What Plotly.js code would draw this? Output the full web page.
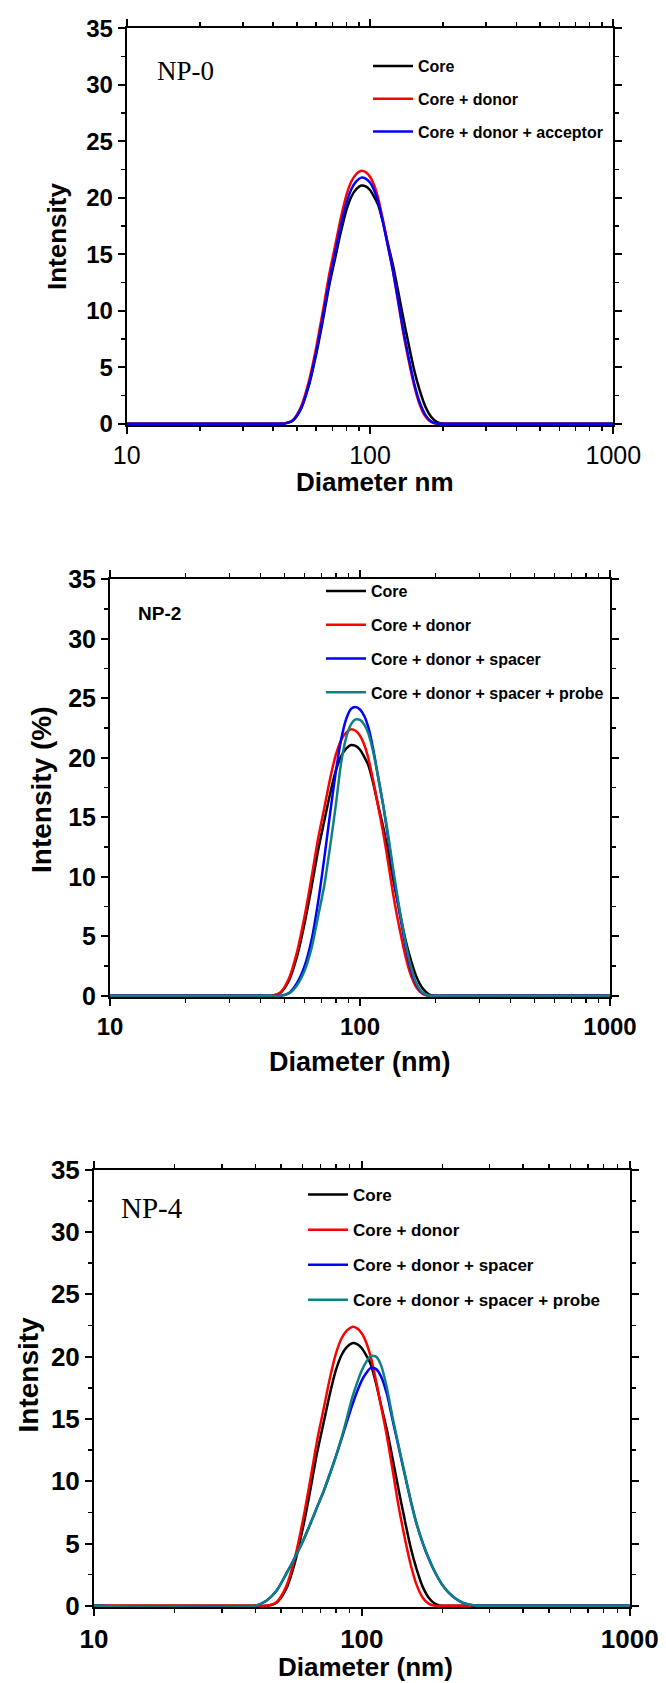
<!DOCTYPE html>
<html><head><meta charset="utf-8">
<script src="https://cdn.plot.ly/plotly-3.0.1.min.js"></script>
<style>html,body{margin:0;padding:0;background:#fff}#chart{width:666px;height:1683px}</style>
</head><body><div id="chart"></div>
<script>
// Diameter grid (nm)
const diameters = [10, 40, 44, 48, 52, 56, 60, 64, 68, 72, 76, 80, 84, 88, 92, 96, 100, 104, 108, 113, 118, 124, 130, 137, 144, 152, 160, 169, 178, 188, 198, 210, 225, 240, 260, 280, 300, 1000];
// Intensity (%) series
const core        = [0, 0, 0, 0.25, 1.29, 3.33, 6.08, 9.14, 12.24, 14.71, 17.03, 18.91, 20.13, 20.78, 21.08, 21.0, 20.68, 20.08, 19.37, 17.85, 16.07, 14.13, 11.92, 9.37, 7.08, 4.72, 2.97, 1.50, 0.63, 0.16, 0.01, 0, 0, 0, 0, 0, 0, 0];
const coreDonor   = [0, 0, 0, 0.29, 1.48, 3.70, 6.66, 9.95, 13.22, 15.81, 18.28, 20.24, 21.48, 22.11, 22.39, 22.27, 21.86, 21.10, 19.96, 18.05, 16.01, 13.64, 11.02, 8.04, 5.65, 3.34, 1.70, 0.63, 0.16, 0, 0, 0, 0, 0, 0, 0, 0, 0];
const np0Acceptor = [0, 0, 0, 0.26, 1.33, 3.44, 6.28, 9.44, 12.64, 15.19, 17.59, 19.53, 20.80, 21.47, 21.78, 21.69, 21.34, 20.66, 19.66, 17.86, 15.89, 13.63, 11.14, 8.28, 5.91, 3.55, 1.89, 0.76, 0.22, 0.02, 0, 0, 0, 0, 0, 0, 0, 0];
const np2Spacer   = [0, 0, 0, 0, 0.25, 1.1, 2.5, 4.7, 7.9, 11.6, 15.4, 18.8, 21.51, 23.24, 24.11, 24.28, 24.06, 23.52, 22.56, 20.71, 18.47, 15.92, 13.10, 9.77, 6.98, 4.22, 2.19, 0.85, 0.24, 0.01, 0, 0, 0, 0, 0, 0, 0, 0];
const np2Probe    = [0, 0, 0, 0, 0.2, 0.9, 2.1, 4.0, 6.7, 9.3, 12.6, 16.0, 19.55, 21.68, 22.81, 23.23, 23.18, 22.79, 22.04, 20.48, 18.45, 15.98, 13.33, 10.09, 7.27, 4.50, 2.40, 0.96, 0.28, 0.03, 0, 0, 0, 0, 0, 0, 0, 0];
const np4Spacer   = [0, 0, 0.4, 1.2, 2.5, 3.8, 5.1, 6.5, 7.9, 9.2, 10.6, 12.0, 13.4, 14.8, 16.1, 17.2, 18.1, 18.7, 19.1, 19.0, 18.4, 17.0, 15.0, 12.8, 10.7, 8.5, 6.6, 5.0, 3.75, 2.65, 1.8, 1.1, 0.55, 0.22, 0.05, 0, 0, 0];
const np4Probe    = [0, 0, 0.4, 1.2, 2.5, 3.8, 5.1, 6.5, 7.9, 9.2, 10.6, 12.0, 13.5, 15.1, 16.7, 17.9, 18.9, 19.6, 20.05, 20.0, 19.3, 17.5, 15.2, 12.9, 10.8, 8.5, 6.6, 5.0, 3.75, 2.65, 1.8, 1.1, 0.55, 0.22, 0.05, 0, 0, 0];
// Labels
const xTickVals = [10, 100, 1000];
const xTickText = ['10', '100', '1000'];
const panelLabels = ['NP-0', 'NP-2', 'NP-4'];
const names = ['Core', 'Core + donor', 'Core + donor + acceptor', 'Core + donor + spacer', 'Core + donor + spacer + probe'];
const colors = {black: '#000000', red: '#ff0000', blue: '#0000ff', teal: '#0e8080'};

const W = 666, H = 1683;
const px = v => v / W, py = v => 1 - v / H;
const SANS = 'Liberation Sans, Arial, sans-serif';
const SERIF = 'Liberation Serif, Times New Roman, serif';

const minorX = [];
[10, 100].forEach(d => { for (let k = 2; k <= 9; k++) minorX.push(k * d); });

function line(y, name, color, xa, ya, lg, grp) {
  return {x: diameters, y: y, name: name, type: 'scatter', mode: 'lines',
    line: {color: color, width: 2.5, shape: 'spline', smoothing: 0.7},
    xaxis: xa, yaxis: ya, legend: lg, legendgroup: grp, hoverinfo: 'skip'};
}
const data = [
  line(core, names[0], colors.black, 'x', 'y', 'legend', 'a1'),
  line(coreDonor, names[1], colors.red, 'x', 'y', 'legend', 'a2'),
  line(np0Acceptor, names[2], colors.blue, 'x', 'y', 'legend', 'a3'),
  line(core, names[0], colors.black, 'x2', 'y2', 'legend2', 'b1'),
  line(coreDonor, names[1], colors.red, 'x2', 'y2', 'legend2', 'b2'),
  line(np2Spacer, names[3], colors.blue, 'x2', 'y2', 'legend2', 'b3'),
  line(np2Probe, names[4], colors.teal, 'x2', 'y2', 'legend2', 'b4'),
  line(core, names[0], colors.black, 'x3', 'y3', 'legend3', 'c1'),
  line(coreDonor, names[1], colors.red, 'x3', 'y3', 'legend3', 'c2'),
  line(np4Spacer, names[3], colors.blue, 'x3', 'y3', 'legend3', 'c3'),
  line(np4Probe, names[4], colors.teal, 'x3', 'y3', 'legend3', 'c4')
];

function xAx(l, r, anchor, size, weight) {
  return {type: 'log', range: [1, 3], domain: [px(l), px(r)], anchor: anchor,
    tickmode: 'array', tickvals: xTickVals, ticktext: xTickText,
    ticks: 'outside', ticklen: 7, tickwidth: 2, tickcolor: '#000',
    showline: true, linewidth: 2, linecolor: '#000', mirror: 'ticks',
    showgrid: false, zeroline: false,
    tickfont: {family: SANS, size: size, weight: weight, color: '#000'},
    minor: {tickmode: 'array', tickvals: minorX, ticks: 'outside', ticklen: 4, tickwidth: 1.5, tickcolor: '#000', showgrid: false}};
}
function yAx(top, bottom, anchor, size) {
  return {range: [-0.12, 35], domain: [py(bottom), py(top)], anchor: anchor,
    tick0: 0, dtick: 5, ticks: 'outside', ticklen: 7, tickwidth: 2, tickcolor: '#000',
    showline: true, linewidth: 2, linecolor: '#000', mirror: 'ticks',
    showgrid: false, zeroline: false,
    tickfont: {family: SANS, size: size, weight: 'bold', color: '#000'},
    minor: {tick0: 0, dtick: 2.5, ticks: 'outside', ticklen: 4, tickwidth: 1.5, tickcolor: '#000', showgrid: false}};
}
function ann(text, x, y, size, opts) {
  return Object.assign({text: text, x: px(x), y: py(y), xref: 'paper', yref: 'paper',
    showarrow: false, xanchor: 'center', yanchor: 'middle',
    font: {family: SANS, size: size, weight: 'bold', color: '#000'}}, opts || {});
}
function leg(left, top, size, gap) {
  return {x: px(left), y: py(top), xanchor: 'left', yanchor: 'top',
    bgcolor: 'rgba(0,0,0,0)', borderwidth: 0, tracegroupgap: gap, itemwidth: 40,
    font: {family: SANS, size: size, weight: 'bold', color: '#000'}};
}

const layout = {
  width: W, height: H, autosize: false,
  margin: {l: 0, r: 0, t: 0, b: 0},
  paper_bgcolor: '#fff', plot_bgcolor: '#fff', showlegend: true,
  xaxis: xAx(126.7, 613.3, 'y', 25, 'normal'),
  yaxis: yAx(28.3, 425, 'x', 24),
  xaxis2: xAx(110, 610, 'y2', 24, 'bold'),
  yaxis2: yAx(579.3, 997.3, 'x2', 25),
  xaxis3: xAx(94, 629.7, 'y3', 26, 'bold'),
  yaxis3: yAx(1169.8, 1607.3, 'x3', 26),
  legend: leg(368, 49, 16, 9),
  legend2: leg(321, 574, 16, 10),
  legend3: leg(303, 1177, 17, 10),
  annotations: [
    ann(panelLabels[0], 154.6, 71, 27, {xanchor: 'left', font: {family: SERIF, size: 27, color: '#000'}}),
    ann('Intensity', 57, 237, 26, {textangle: -90}),
    ann('Diameter nm', 375, 482, 26),
    ann(panelLabels[1], 135.5, 613, 19, {xanchor: 'left'}),
    ann('Intensity (%)', 42, 790, 28, {textangle: -90}),
    ann('Diameter (nm)', 360, 1062, 27),
    ann(panelLabels[2], 118.6, 1208, 29, {xanchor: 'left', font: {family: SERIF, size: 29, color: '#000'}}),
    ann('Intensity', 27.5, 1375, 28, {textangle: -90}),
    ann('Diameter (nm)', 365, 1667, 26)
  ]
};

Plotly.newPlot('chart', data, layout, {displayModeBar: false, staticPlot: true});
</script></body></html>
